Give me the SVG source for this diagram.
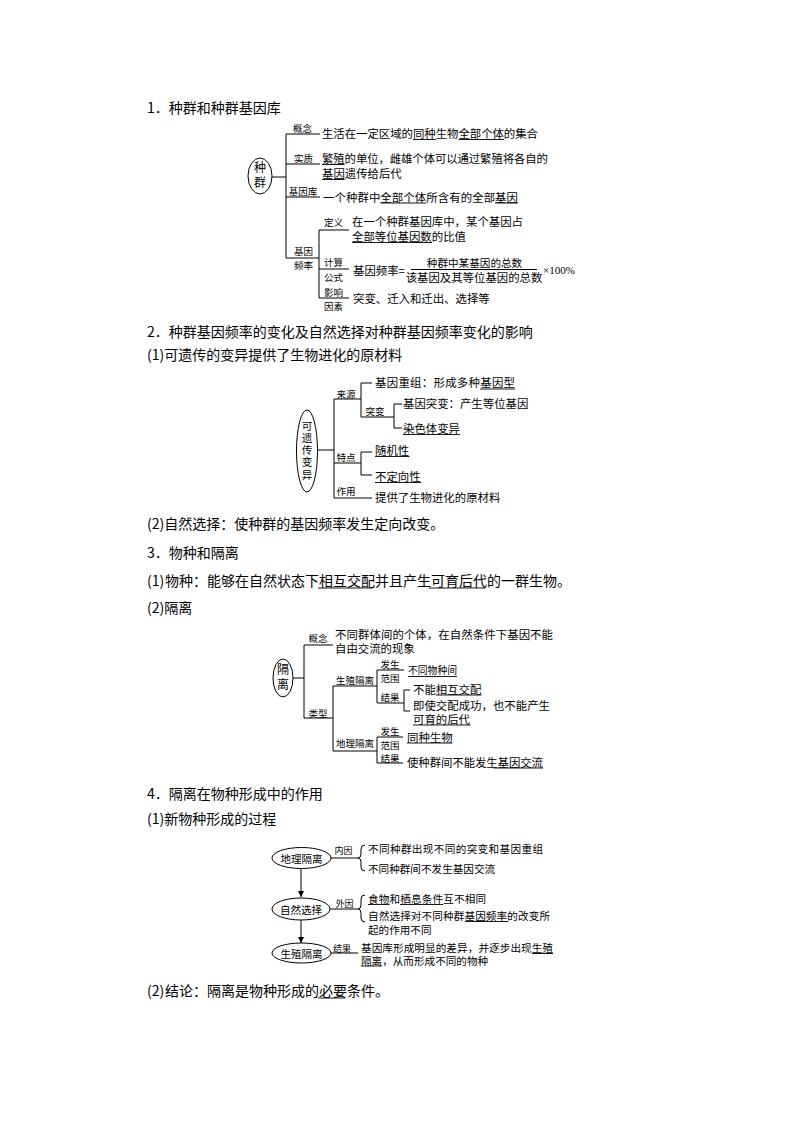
<svg xmlns="http://www.w3.org/2000/svg" width="794" height="1123" viewBox="0 0 794 1123">
<defs>
<style>
text{font-family:"Noto Sans CJK SC","Noto Sans CJK JP",sans-serif;fill:#000;dominant-baseline:central}
.h{font-size:14px}
.t{font-size:11.4px}
.s{font-size:10.6px}
.l{font-size:9.5px;text-anchor:middle}
.v{writing-mode:vertical-rl;text-anchor:middle;dominant-baseline:central}
.ln{stroke:#000;stroke-width:1;fill:none}
.u{stroke:#000;stroke-width:0.9;fill:none}
.el{stroke:#000;stroke-width:1;fill:#fff}
</style>
<marker id="arr" viewBox="0 0 10 10" refX="10" refY="5" markerWidth="6" markerHeight="6" markerUnits="userSpaceOnUse" orient="auto"><path d="M0,0 L10,5 L0,10 Z" fill="#000"/></marker>
</defs>
<rect width="794" height="1123" fill="#fff"/>

<!-- Headings -->
<g id="headings">
<text class="h" x="147" y="107">1．种群和种群基因库</text>
<text class="h" x="147" y="331">2．种群基因频率的变化及自然选择对种群基因频率变化的影响</text>
<text class="h" x="147" y="354">(1)可遗传的变异提供了生物进化的原材料</text>
<text class="h" x="147" y="523">(2)自然选择：使种群的基因频率发生定向改变。</text>
<text class="h" x="147" y="552">3．物种和隔离</text>
<text class="h" x="147" y="580">(1)<tspan x="165">物种：能够在自然状态下相互交配并且产生可育后代的一群生物。</tspan></text>
<line class="u" x1="318" y1="588" x2="373" y2="588"/>
<line class="u" x1="429" y1="588" x2="485" y2="588"/>
<text class="h" x="147" y="607">(2)隔离</text>
<text class="h" x="147" y="793">4．隔离在物种形成中的作用</text>
<text class="h" x="147" y="818">(1)新物种形成的过程</text>
<text class="h" x="147" y="990">(2)<tspan x="165">结论：隔离是物种形成的必要条件。</tspan></text>
<line class="u" x1="318" y1="998" x2="345" y2="998"/>
</g>

<!-- Connectors -->
<g id="connectors">
<path class="ln" d="M272,177 H286" stroke-width="1.6"/>
<path class="ln" d="M286,134 V258 M286,134 H320 M286,164 H320 M286,197 H320 M286,258 H319 M319,230 V298 M319,230 H349 M319,269 H349 M319,298 H349"/>
<path class="ln" d="M317.5,450 H334 M334,399 V498 M334,399 H361 M334,463 H361 M334,498 H372 M361,383 V417 M361,383 H372 M361,417 H394 M394,404 V428 M394,404 H402 M394,428 H402 M361,452 V475 M361,452 H372 M361,475 H372"/>
<path class="ln" d="M293,678 H304 M304,645 V718 M304,645 H333 M304,718 H333 M333,686 V751 M333,686 H377 M333,751 H377 M377,670 V703 M377,670 H404 M377,703 H404 M404,690 V711 M404,690 H410 M404,711 H410 M377,737 V763 M377,737 H403 M377,763 H403"/>
<path class="ln" d="M301,868.5 V897" marker-end="url(#arr)"/>
<path class="ln" d="M301,920 V943" marker-end="url(#arr)"/>
<path class="ln" d="M331,858 H358 M330,909 H358 M331,953 H358"/>
<path class="ln" d="M365,845 Q361,845 361,849 V854 Q361,858 358,858 Q361,858 361,862 V867 Q361,871 365,871"/>
<path class="ln" d="M365,895 Q361,895 361,899 V905 Q361,909 358,909 Q361,909 361,913 V918 Q361,922 365,922"/>
</g>

<!-- Section 1 -->
<g id="n-zhongqun">
<ellipse class="el" cx="260" cy="176" rx="12" ry="18"/>
<text class="v" x="260" y="176.5" style="font-size:12px;letter-spacing:3px">种群</text>
</g>
<g id="n-gainian">
<text class="l" x="302.5" y="128">概念</text>
<text class="t" x="322" y="133" textLength="216">生活在一定区域的同种生物全部个体的集合</text>
<path class="u" d="M413,139.5 H436 M458.5,139.5 H504"/>
</g>
<g id="n-shizhi">
<text class="l" x="303.5" y="158">实质</text>
<text class="t" x="322" y="158" textLength="226">繁殖的单位，雌雄个体可以通过繁殖将各自的</text>
<text class="t" x="322" y="173">基因遗传给后代</text>
<path class="u" d="M322,164.5 H344.6 M322,179.5 H344.6"/>
</g>
<g id="n-jiyinku">
<text class="l" x="303" y="191">基因库</text>
<text class="t" x="323" y="197" textLength="195">一个种群中全部个体所含有的全部基因</text>
<path class="u" d="M380.4,203 H426.2 M495,203 H518"/>
</g>
<g id="n-pinlv">
<text class="l" x="303.5" y="251">基因</text>
<text class="l" x="303.5" y="265">频率</text>
</g>
<g id="n-dingyi">
<text class="l" x="333.5" y="222">定义</text>
<text class="t" x="352" y="221" textLength="171">在一个种群基因库中，某个基因占</text>
<text class="t" x="352" y="236">全部等位基因数的比值</text>
<path class="u" d="M352,242.5 H432"/>
</g>
<g id="n-gongshi">
<text class="l" x="333.5" y="262">计算</text>
<text class="l" x="333.5" y="277">公式</text>
<text class="t" x="353" y="270">基因频率=</text>
<text x="474.5" y="262.5" style="font-size:10.6px;text-anchor:middle">种群中某基因的总数</text>
<line class="ln" x1="411" y1="269.5" x2="537" y2="269.5"/>
<text x="474" y="277" style="font-size:11.4px;text-anchor:middle">该基因及其等位基因的总数</text>
<text x="543" y="270" style="font-family:'Liberation Serif',serif;font-size:11px">×100%</text>
</g>
<g id="n-yingxiang">
<text class="l" x="333.5" y="292">影响</text>
<text class="l" x="333.5" y="305.5">因素</text>
<text class="t" x="353" y="298">突变、迁入和迁出、选择等</text>
</g>

<!-- Section 2 -->
<g id="n-kebianyi">
<ellipse class="el" cx="307" cy="451" rx="10.5" ry="41"/>
<text class="v" x="307" y="451" style="font-size:10.6px;letter-spacing:1.6px">可遗传变异</text>
</g>
<g id="n-laiyuan"><text class="l" x="346" y="394">来源</text></g>
<g id="n-chongzu">
<text class="t" x="375" y="382" textLength="140">基因重组：形成多种基因型</text>
<path class="u" d="M480,389 H515"/>
</g>
<g id="n-tubian"><text class="l" x="375" y="411">突变</text></g>
<g id="n-jiyintubian"><text class="t" x="403" y="403">基因突变：产生等位基因</text></g>
<g id="n-ransetibianyi">
<text class="t" x="403" y="428">染色体变异</text>
<path class="u" d="M403,434.5 H460"/>
</g>
<g id="n-tedian"><text class="l" x="346" y="457">特点</text></g>
<g id="n-suijixing">
<text class="t" x="375" y="450">随机性</text>
<path class="u" d="M375,456.5 H409.5"/>
</g>
<g id="n-budingxiang">
<text class="t" x="375" y="476">不定向性</text>
<path class="u" d="M375,482.5 H421"/>
</g>
<g id="n-zuoyong">
<text class="l" x="346" y="491">作用</text>
<text class="t" x="375" y="497">提供了生物进化的原材料</text>
</g>

<!-- Section 3 -->
<g id="n-geli">
<ellipse class="el" cx="283" cy="678" rx="10" ry="19"/>
<text class="v" x="283" y="678" style="font-size:12px;letter-spacing:3px">隔离</text>
</g>
<g id="n-geli-gainian">
<text class="l" x="318" y="638">概念</text>
<text class="t" x="335" y="634" textLength="218">不同群体间的个体，在自然条件下基因不能</text>
<text class="t" x="335" y="648">自由交流的现象</text>
</g>
<g id="n-leixing"><text class="l" x="318" y="713">类型</text></g>
<g id="n-shengzhigeli">
<text class="l" x="355" y="680">生殖隔离</text>
<text class="l" x="390" y="664">发生</text>
<text class="l" x="390" y="678">范围</text>
<text x="408" y="670" style="font-size:9.8px">不同物种间</text>
<path class="u" d="M408,676.5 H457"/>
<text class="l" x="390" y="697">结果</text>
<text class="t" x="413" y="689">不能相互交配</text>
<path class="u" d="M436,695 H481.5"/>
<text class="t" x="413" y="704.5" textLength="137">即使交配成功，也不能产生</text>
<text class="t" x="413" y="719">可育的后代</text>
<path class="u" d="M413,725 H470.5"/>
</g>
<g id="n-diligeli">
<text class="l" x="355" y="743">地理隔离</text>
<text class="l" x="390" y="731">发生</text>
<text class="l" x="390" y="745">范围</text>
<text class="t" x="407" y="737">同种生物</text>
<path class="u" d="M407,743 H452.5"/>
<text class="l" x="390" y="758">结果</text>
<text class="t" x="407" y="762" textLength="136">使种群间不能发生基因交流</text>
<path class="u" d="M493.5,768 H543"/>
</g>

<!-- Section 4 -->
<g id="n-dili">
<ellipse class="el" cx="301.5" cy="858" rx="29.5" ry="10.5"/>
<text x="301.5" y="858" style="font-size:10.5px;text-anchor:middle">地理隔离</text>
</g>
<g id="n-neiyin">
<text x="343.5" y="850" style="font-size:9px;text-anchor:middle">内因</text>
<text class="s" x="368" y="848" textLength="175">不同种群出现不同的突变和基因重组</text>
<text class="s" x="368" y="868">不同种群间不发生基因交流</text>
</g>
<g id="n-ziran">
<ellipse class="el" cx="301" cy="909" rx="29" ry="11"/>
<text x="301" y="909" style="font-size:10.5px;text-anchor:middle">自然选择</text>
</g>
<g id="n-waiyin">
<text x="344.5" y="903" style="font-size:9px;text-anchor:middle">外因</text>
<text class="s" x="368" y="898" textLength="118">食物和栖息条件互不相同</text>
<path class="u" d="M368,904.5 H389.5 M400,904.5 H443"/>
<text class="s" x="368" y="915.5" textLength="182">自然选择对不同种群基因频率的改变所</text>
<path class="u" d="M465,921.5 H508"/>
<text class="s" x="368" y="929">起的作用不同</text>
</g>
<g id="n-shengzhi">
<ellipse class="el" cx="301.5" cy="953" rx="29.5" ry="10"/>
<text x="301.5" y="953" style="font-size:10.5px;text-anchor:middle">生殖隔离</text>
</g>
<g id="n-jieguo">
<text x="342" y="948" style="font-size:9px;text-anchor:middle">结果</text>
<text class="s" x="361" y="947" textLength="192">基因库形成明显的差异，并逐步出现生殖</text>
<path class="u" d="M531.7,953.5 H553"/>
<text class="s" x="361" y="960">隔离，从而形成不同的物种</text>
<path class="u" d="M361,966 H382"/>
</g>
</svg>
